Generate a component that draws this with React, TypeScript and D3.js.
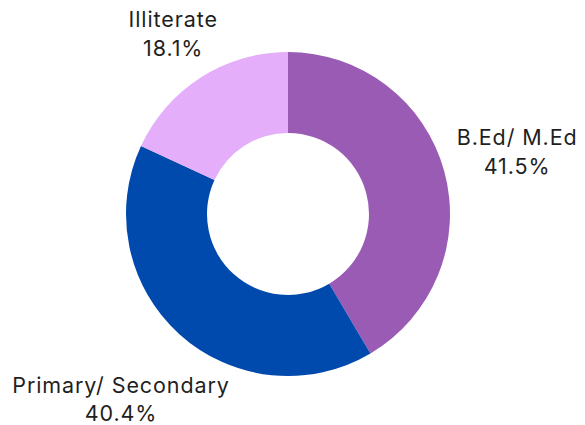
import React from "react";
import * as d3 from "d3";

const categories = ["B.Ed/ M.Ed", "Primary/ Secondary", "Illiterate"];
const values = [41.5, 40.4, 18.1];
const colors = ["#9A5BB5", "#004AAD", "#E4AEFB"];

const W = 585;
const H = 425;
const CX = 288;
const CY = 214;
const OUTER = 162;
const INNER = 81;
const LABEL_CLEAR = 173.5;
const FONT_SIZE = 21.5;
const LETTER = 0.9;
const FONT = "Inter, 'Noto Sans', sans-serif";
const LINE_GAP = 28.5;
const CAP = 0.727 * FONT_SIZE;

function measure(text: string): number {
  const c = document.createElement("canvas");
  const ctx = c.getContext("2d");
  if (!ctx) return text.length * FONT_SIZE * 0.55;
  ctx.font = `${FONT_SIZE}px Inter`;
  return ctx.measureText(text).width + LETTER * (text.length - 1);
}

export default function App() {
  const data = categories.map((c, i) => ({ name: c, value: values[i], color: colors[i] }));
  const pie = d3
    .pie<any>()
    .sort(null)
    .value((d: any) => d.value);
  const arcs = pie(data);
  const arc = d3.arc<any>().innerRadius(INNER).outerRadius(OUTER);

  return (
    <svg
      width={W}
      height={H}
      style={{ position: "absolute", left: 0, top: 0, background: "#fff" }}
    >
      <g transform={`translate(${CX},${CY})`}>
        {arcs.map((a, i) => (
          <path key={i} d={arc(a) as string} fill={a.data.color} />
        ))}
        {arcs.map((a, i) => {
          const mid = (a.startAngle + a.endAngle) / 2;
          const ux = Math.sin(mid);
          const uy = -Math.cos(mid);
          const line1 = a.data.name;
          const line2 = `${a.data.value.toFixed(1)}%`;
          const hw = Math.max(measure(line1), measure(line2)) / 2;
          const hh = (CAP + LINE_GAP) / 2;
          const cx = ux >= 0 ? -hw : hw;
          const cy = uy >= 0 ? -hh : hh;
          const uc = ux * cx + uy * cy;
          const cc = cx * cx + cy * cy;
          const t = -uc + Math.sqrt(uc * uc - cc + LABEL_CLEAR * LABEL_CLEAR);
          const bx = t * ux;
          const by = t * uy;
          const top = by - hh;
          return (
            <text
              key={"l" + i}
              textAnchor="middle"
              fontFamily={FONT}
              fontSize={FONT_SIZE}
              letterSpacing={LETTER}
              fill="#1f1f1f"
            >
              <tspan x={bx + LETTER / 2} y={top + CAP}>
                {line1}
              </tspan>
              <tspan x={bx + LETTER / 2} y={top + CAP + LINE_GAP}>
                {line2}
              </tspan>
            </text>
          );
        })}
      </g>
    </svg>
  );
}
